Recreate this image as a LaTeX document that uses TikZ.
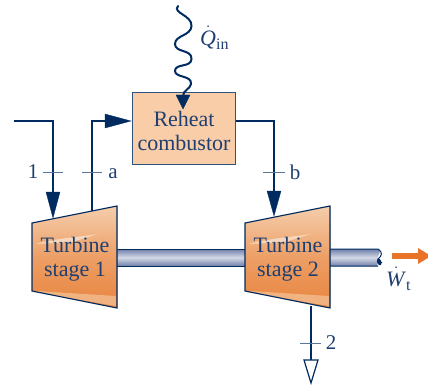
\documentclass[tikz,border=0pt]{standalone}
\usepackage{fontspec}
\setmainfont{Liberation Serif}
\usetikzlibrary{arrows.meta,calc}
\definecolor{navy}{HTML}{002B60}
\definecolor{inkb}{HTML}{1F3F70}
\definecolor{edgeb}{HTML}{2F5380}
\definecolor{boxf}{HTML}{F8CDA8}
\definecolor{tubtop}{HTML}{F2BD90}
\definecolor{tubmid}{HTML}{ED9F66}
\definecolor{tubbot}{HTML}{E8843E}
\definecolor{shafta}{HTML}{6F7FA8}
\definecolor{shaftb}{HTML}{D4D9E6}
\definecolor{orangearrow}{HTML}{E8742A}
\tikzset{
  x=1pt,y=-1pt,
  lab/.style={font=\fontsize{22}{24.5}\selectfont,text=inkb,align=center,inner sep=0pt},
  statelab/.style={font=\fontsize{21}{24}\selectfont,text=inkb,inner sep=0pt},
  pipe/.style={draw=navy,line width=1.8pt},
  tick/.style={draw=edgeb!80,line width=1pt},
  headfill/.style={fill=navy,draw=navy,line width=.3pt},
  turbine/.style={draw=navy,line width=1.1pt},
  shaftedge/.style={draw=navy,line width=1pt},
}
\newcommand{\turb}[3]{%
  \coordinate (#1nw) at (#2,223);
  \coordinate (#1ne) at (#2+85,206);
  \coordinate (#1se) at (#2+85,308);
  \coordinate (#1sw) at (#2,291);
  \fill[top color=tubtop!75!white,bottom color=tubbot,middle color=tubmid,shading angle=0]
     (#1nw) -- (#1ne) -- (#1se) -- (#1sw) -- cycle;
  \fill[tubtop!60!white] ($(#1nw)+(4,21)$) .. controls ($(#1nw)+(30,14)$) and ($(#1nw)+(50,14)$) .. ($(#1nw)+(66,11)$) -- ($(#1nw)+(40,19)$) -- cycle;
  \fill[tubtop,opacity=.8] ($(#1sw)+(5,0)$) -- ($(#1se)+(-1,-12)$) -- ($(#1se)+(-1,-2)$) -- ($(#1sw)+(1,1)$) -- cycle;
  \draw[turbine] (#1sw) -- (#1nw) -- (#1ne) -- (#1se) -- cycle;
  \node[lab] (#1) at (#2+43,259) {Turbine\\#3};
}
\begin{document}
\begin{tikzpicture}
\useasboundingbox (0,0) rectangle (428,385);
% shaft
\coordinate (s1) at (117,249); \coordinate (s2) at (245,266);
\shade[top color=shafta,bottom color=shafta,middle color=shaftb] (s1) rectangle (s2);
\draw[shaftedge] (s1) -- (s1-|s2) (s1|-s2) -- (s2);
\coordinate (s3) at (330,249); \coordinate (s4) at (380,266);
\shade[top color=shafta,bottom color=shafta,middle color=shaftb] (s3) -- (378,249) .. controls (384,253) and (373,258) .. (378,266) -- (330,266) -- cycle;
\draw[shaftedge] (s3) -- (378,249) .. controls (383,252) and (382,256) .. (378,259) .. controls (376,263) and (381,265) .. (382,262) (378,266) -- (330,266);
\fill[navy] (378,258) .. controls (375,263) and (379,266) .. (381,265) .. controls (382,262) and (381,259) .. (378,258) -- cycle;
% turbines
\turb{tone}{32}{stage 1}
\turb{ttwo}{245}{stage 2}
% combustor
\node[draw=edgeb,line width=1.1pt,fill=boxf,minimum width=103pt,minimum height=72pt,inner sep=0pt,anchor=north west] (box) at (132,92) {};
\node[lab] (boxtext) at ([yshift=-2.5pt]box.center) {Reheat\\combustor};
% pipes
\coordinate (inl) at (14,121);
\coordinate (ti) at (53,218);
\coordinate (hi) at (53,192);
\draw[pipe] (inl) -- (ti|-inl) -- (hi);
\fill[headfill] (46,192) -- (60,192) -- (ti) -- cycle;
\coordinate (aout) at (92,211);
\coordinate (ta) at (131,121);
\draw[pipe] (aout) -- (aout|-ta) -- (108,121);
\fill[headfill] (105,114) -- (105,128) -- (ta) -- cycle;
\coordinate (bbot) at (274,193);
\coordinate (tb) at (274,216);
\draw[pipe] (box.east|-ta) -- (bbot|-ta) -- (bbot);
\fill[headfill] (267,191) -- (281,191) -- (tb) -- cycle;
\coordinate (oa) at (311,306);
\coordinate (ob) at (311,360);
\coordinate (oc) at (311,383);
\draw[pipe] (oa) -- (ob);
\draw[draw=navy,line width=1.2pt,fill=white,line join=miter] (304,360) -- (318,360) -- (oc) -- cycle;
% ticks
\coordinate (k1) at (53,172); \coordinate (ka) at (92,172); \coordinate (kb) at (274,172); \coordinate (k2) at (311,343);
\draw[tick] ($(k1)+(-10,0)$) -- ($(k1)+(10,0)$);
\draw[tick] ($(ka)+(-10,0)$) -- ($(ka)+(10,0)$);
\draw[tick] ($(kb)+(-11,0)$) -- ($(kb)+(11,0)$);
\draw[tick] ($(k2)+(-11,0)$) -- ($(k2)+(10,0)$);
\node[statelab] (n1) at (33,172) {1};
\node[statelab] (na) at (113,174) {a};
\node[statelab] (nb) at (295,172) {b};
\node[statelab] (n2) at (331,343) {2};
% heat
\coordinate (q0) at (178,6);
\coordinate (q1) at (183,96);
\draw[pipe,line width=2pt,line cap=round] (q0) .. controls (172,13) and (192,15) .. (191.5,26)
  .. controls (191,36) and (175,35) .. (175,44)
  .. controls (175,53) and (192,49) .. (191.5,59)
  .. controls (191,68) and (175,63) .. (175,71)
  .. controls (175,78) and (192,75) .. (191,84)
  .. controls (190.5,89) and (183,90) .. (q1);
\coordinate (tq) at (183,109);
\fill[headfill] (176,95) -- (190,95) -- (tq) -- cycle;
\node[lab,anchor=west,font=\fontsize{22}{24}\selectfont] (qlab) at (200,38) {$\dot{\mbox{\textit{Q}}}$\raisebox{-4pt}{\fontsize{16}{16}\selectfont in}};
% work
\coordinate (w0) at (392,256);
\coordinate (w1) at (430,256);
\draw[orangearrow,line width=6pt] (w0) -- (420,256);
\fill[orangearrow] (418,248) -- (431,256) -- (418,264) -- cycle;
\node[lab,anchor=west,font=\fontsize{22}{24}\selectfont] (wlab) at (386,279) {$\dot{\mbox{\textit{W}}}$\raisebox{-4pt}{\fontsize{16}{16}\selectfont t}};
\end{tikzpicture}
\end{document}
